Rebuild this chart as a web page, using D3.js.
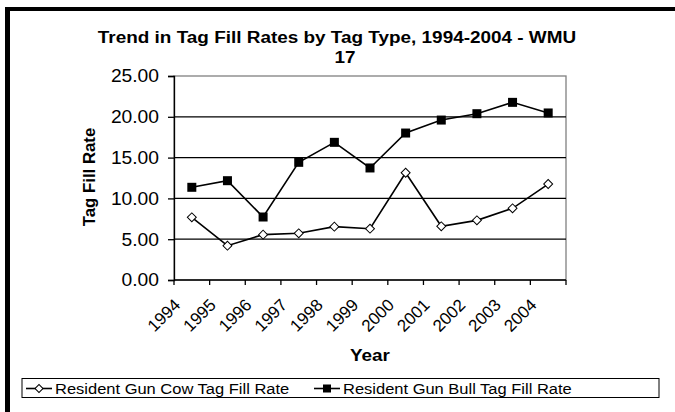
<!DOCTYPE html>
<html><head><meta charset="utf-8">
<script src="https://cdn.jsdelivr.net/npm/d3@7"></script>
<style>body{margin:0;background:#fff}svg{display:block}text{font-family:"Liberation Sans",Arial,sans-serif;fill:#000}</style>
</head><body>
<script>
const years = ["1994","1995","1996","1997","1998","1999","2000","2001","2002","2003","2004"];
const cowRate = [7.68,4.21,5.56,5.72,6.54,6.29,13.15,6.58,7.31,8.78,11.76];
const bullRate = [11.36,12.17,7.72,14.42,16.87,13.73,18.01,19.60,20.38,21.77,20.47];
const yTicks = [0,5,10,15,20,25];
const titleLines = ["Trend in Tag Fill Rates by Tag Type, 1994-2004 - WMU","17"];
const seriesNames = ["Resident Gun Cow Tag Fill Rate","Resident Gun Bull Tag Fill Rate"];

const W=675,H=412,SX=1.1;
const svg=d3.select("body").append("svg").attr("width",W).attr("height",H);
svg.append("rect").attr("width",W).attr("height",H).attr("fill","#fff");

// outer frame (cropped)
svg.append("line").attr("x1",7.5).attr("x2",7.5).attr("y1",7).attr("y2",H+5).attr("stroke","#000").attr("stroke-width",5);
svg.append("line").attr("x1",5).attr("x2",W+5).attr("y1",9).attr("y2",9).attr("stroke","#000").attr("stroke-width",4);

const L=174,R=566,T=76,B=280;
const x=d3.scaleBand().domain(years).range([L,R]).padding(0);
const y=d3.scaleLinear().domain([0,25]).range([B,T]);
const cx=d=>x(d)+x.bandwidth()/2;

function stext(sel,px,py,str,opts){
  const t=sel.append("text").attr("transform",`translate(${px},${py}) scale(${SX},1)`).text(str);
  if(opts){for(const k in opts)t.attr(k,opts[k]);}
  return t;
}

// title
stext(svg,337,43,titleLines[0],{"text-anchor":"middle","font-size":"17.2px","font-weight":"bold"});
stext(svg,345,63,titleLines[1],{"text-anchor":"middle","font-size":"17.2px","font-weight":"bold"});

// plot area border
svg.append("rect").attr("x",L).attr("y",T).attr("width",R-L).attr("height",B-T).attr("fill","none").attr("stroke","#808080").attr("stroke-width",1.3);

// gridlines
svg.append("g").selectAll("line").data(yTicks.filter(v=>v>0&&v<25)).join("line")
  .attr("x1",L).attr("x2",R).attr("y1",d=>y(d)).attr("y2",d=>y(d)).attr("stroke","#000").attr("stroke-width",1.2);

// y axis
const ya=svg.append("g").attr("transform",`translate(${L},0)`).call(d3.axisLeft(y).tickValues(yTicks).tickSize(6).tickFormat(""));
ya.selectAll("path,line").attr("stroke","#000").attr("stroke-width",1.3);
yTicks.forEach(v=>stext(svg,159,y(v)+6.3,d3.format(".2f")(v),{"text-anchor":"end","font-size":"17.5px"}));

// x axis
svg.append("line").attr("x1",L).attr("x2",R).attr("y1",B).attr("y2",B).attr("stroke","#000").attr("stroke-width",1.3);
const bounds=years.map(d=>x(d)).concat([R]);
svg.append("g").selectAll("line").data(bounds).join("line")
  .attr("x1",d=>d).attr("x2",d=>d).attr("y1",B).attr("y2",B+5).attr("stroke","#000").attr("stroke-width",1.3);
svg.append("g").selectAll("text").data(years).join("text")
  .attr("transform",d=>`translate(${cx(d)-10.5},${B+26}) rotate(-45)`)
  .attr("text-anchor","end").attr("font-size","17px").text(d=>d);

// axis titles
stext(svg,370,361,"Year",{"text-anchor":"middle","font-size":"17.2px","font-weight":"bold"});
svg.append("text").attr("transform","translate(95,177) rotate(-90)").attr("text-anchor","middle")
  .attr("font-size","16.8px").attr("font-weight","bold").text("Tag Fill Rate");

// lines
const line=d3.line().x((d,i)=>cx(years[i])).y(d=>y(d));
svg.append("path").datum(cowRate).attr("d",line).attr("fill","none").attr("stroke","#000").attr("stroke-width",1.6);
svg.append("path").datum(bullRate).attr("d",line).attr("fill","none").attr("stroke","#000").attr("stroke-width",1.6);
svg.append("g").selectAll("path").data(cowRate).join("path")
  .attr("d",d3.symbol().type(d3.symbolSquare).size(40))
  .attr("transform",(d,i)=>`translate(${cx(years[i])},${y(d)}) rotate(45)`)
  .attr("fill","#fff").attr("stroke","#000").attr("stroke-width",1);
svg.append("g").selectAll("rect").data(bullRate).join("rect")
  .attr("x",(d,i)=>cx(years[i])-4.5).attr("y",d=>y(d)-4.5).attr("width",9).attr("height",9).attr("fill","#000");

// legend
svg.append("rect").attr("x",22).attr("y",378.5).attr("width",637).attr("height",19).attr("fill","#fff").attr("stroke","#000").attr("stroke-width",1);
const ly=388.5;
svg.append("line").attr("x1",26).attr("x2",52).attr("y1",ly).attr("y2",ly).attr("stroke","#000").attr("stroke-width",1.6);
svg.append("path").attr("d",d3.symbol().type(d3.symbolSquare).size(32)).attr("transform",`translate(39,${ly}) rotate(45)`).attr("fill","#fff").attr("stroke","#000");
stext(svg,55,ly+5.5,seriesNames[0],{"font-size":"15px"});
svg.append("line").attr("x1",314).attr("x2",340).attr("y1",ly).attr("y2",ly).attr("stroke","#000").attr("stroke-width",1.6);
svg.append("rect").attr("x",323).attr("y",ly-4).attr("width",8).attr("height",8).attr("fill","#000");
stext(svg,343,ly+5.5,seriesNames[1],{"font-size":"15px"});
</script>
</body></html>
